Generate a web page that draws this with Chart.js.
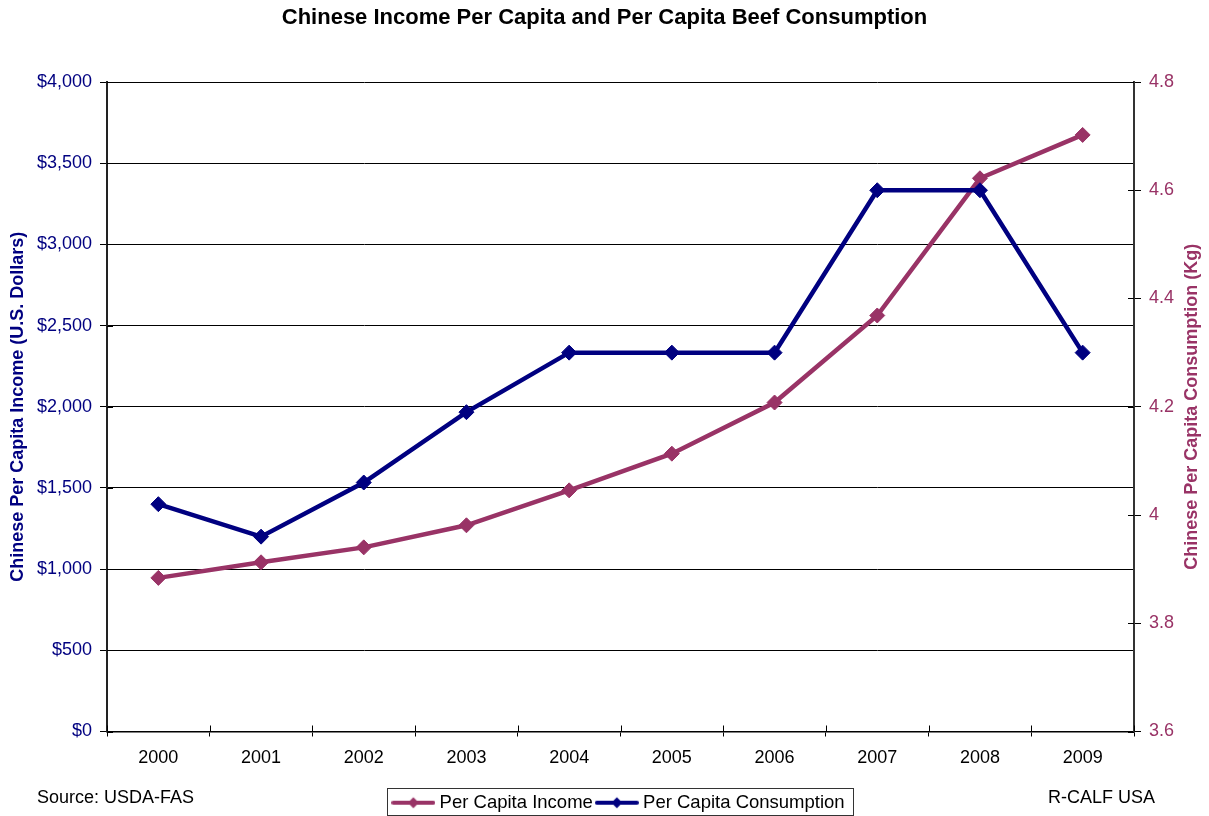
<!DOCTYPE html>
<html>
<head>
<meta charset="utf-8">
<script src="https://cdn.jsdelivr.net/npm/chart.js@4/dist/chart.umd.min.js"></script>
<style>
  html, body { margin: 0; padding: 0; background: #ffffff; }
  #wrap { width: 1209px; height: 816px; }
</style>
</head>
<body>
<div id="wrap"><canvas id="c" width="1209" height="816"></canvas></div>
<script>
// ---- data ----
const years = ['2000', '2001', '2002', '2003', '2004', '2005', '2006', '2007', '2008', '2009'];
const incomeUSD = [946, 1042, 1134, 1270, 1485, 1711, 2026, 2562, 3407, 3674];
const consumptionKg = [4.02, 3.96, 4.06, 4.19, 4.30, 4.30, 4.30, 4.60, 4.60, 4.30];
const seriesNames = ['Per Capita Income', 'Per Capita Consumption'];
const chartTitle = 'Chinese Income Per Capita and Per Capita Beef Consumption';
const leftAxisTitle = 'Chinese Per Capita Income (U.S. Dollars)';
const rightAxisTitle = 'Chinese Per Capita Consumption (Kg)';
const sourceNote = 'Source: USDA-FAS';
const creditNote = 'R-CALF USA';

const MAROON = '#993366';
const NAVY = '#000080';
const FONT = "'Liberation Sans', Arial, Helvetica, sans-serif";

Chart.defaults.font.family = FONT;
Chart.defaults.color = '#000';

function legendSample(color) {
  const cv = document.createElement('canvas');
  cv.width = 44; cv.height = 14;
  const g = cv.getContext('2d');
  g.strokeStyle = color; g.lineWidth = 4; g.lineCap = 'round';
  g.beginPath(); g.moveTo(2, 7); g.lineTo(42, 7); g.stroke();
  g.fillStyle = color;
  g.beginPath(); g.moveTo(22, 1.5); g.lineTo(27.5, 7); g.lineTo(22, 12.5); g.lineTo(16.5, 7); g.closePath(); g.fill();
  return cv;
}
const samples = [legendSample(MAROON), legendSample(NAVY)];

const decorations = {
  id: 'decorations',
  beforeDatasetsDraw(chart) {
    const ctx = chart.ctx, a = chart.chartArea;
    ctx.save();
    ctx.strokeStyle = '#000'; ctx.lineWidth = 1;
    const y = chart.scales.y, y2 = chart.scales.y2;
    y.ticks.forEach(t => {
      const p = Math.round(y.getPixelForValue(t.value)) + 0.5;
      ctx.beginPath(); ctx.moveTo(a.left, p); ctx.lineTo(a.left + 6, p); ctx.stroke();
    });
    y2.ticks.forEach(t => {
      const p = Math.round(y2.getPixelForValue(t.value)) + 0.5;
      ctx.beginPath(); ctx.moveTo(a.right - 6, p); ctx.lineTo(a.right, p); ctx.stroke();
    });
    const n = years.length;
    for (let i = 0; i <= n; i++) {
      const p = Math.round(a.left + i * (a.right - a.left) / n) + 0.5;
      ctx.beginPath(); ctx.moveTo(p, a.bottom - 6); ctx.lineTo(p, a.bottom); ctx.stroke();
    }
    ctx.restore();
  },
  afterDraw(chart) {
    const ctx = chart.ctx, a = chart.chartArea;
    ctx.save();
    ctx.translate(1192, (a.top + a.bottom) / 2);
    ctx.rotate(-Math.PI / 2);
    ctx.font = 'bold 18px ' + FONT;
    ctx.fillStyle = MAROON;
    ctx.textAlign = 'center'; ctx.textBaseline = 'middle';
    ctx.fillText(rightAxisTitle, 0, 0);
    ctx.restore();

    ctx.save();
    ctx.font = '18px ' + FONT;
    ctx.fillStyle = '#000';
    ctx.textBaseline = 'middle';
    ctx.textAlign = 'left';
    ctx.fillText(sourceNote, 37, 798);
    ctx.textAlign = 'right';
    ctx.fillText(creditNote, 1155, 798);
    ctx.restore();

    const lg = chart.legend;
    if (lg && lg.legendHitBoxes && lg.legendHitBoxes.length) {
      const hb = lg.legendHitBoxes;
      const first = hb[0], last = hb[hb.length - 1];
      const l = Math.round(first.left - 9.5) + 0.5;
      const r = Math.round(last.left + last.width + 8) + 0.5;
      const t = Math.round(first.top - 6) + 0.5;
      const b = Math.round(first.top + first.height + 3) + 0.5;
      ctx.save();
      ctx.strokeStyle = '#333'; ctx.lineWidth = 1;
      ctx.strokeRect(l, t, r - l, b - t);
      ctx.restore();
    }
  }
};

new Chart(document.getElementById('c'), {
  type: 'line',
  data: {
    labels: years,
    datasets: [
      {
        label: seriesNames[0],
        data: incomeUSD,
        yAxisID: 'y',
        order: 1,
        borderColor: MAROON,
        backgroundColor: MAROON,
        borderWidth: 4.5,
        pointStyle: 'rectRot',
        pointRadius: 7.5,
        pointBorderWidth: 1,
        pointBackgroundColor: MAROON,
        pointBorderColor: MAROON,
        tension: 0,
        fill: false
      },
      {
        label: seriesNames[1],
        data: consumptionKg,
        yAxisID: 'y2',
        order: 0,
        borderColor: NAVY,
        backgroundColor: NAVY,
        borderWidth: 4.5,
        pointStyle: 'rectRot',
        pointRadius: 7.5,
        pointBorderWidth: 1,
        pointBackgroundColor: NAVY,
        pointBorderColor: NAVY,
        tension: 0,
        fill: false
      }
    ]
  },
  options: {
    responsive: false,
    animation: false,
    devicePixelRatio: 1,
    layout: { padding: { left: 0, right: 0, top: 0, bottom: -6 } },
    plugins: {
      title: {
        display: true,
        text: chartTitle,
        color: '#000',
        font: { size: 22, weight: 'bold' },
        padding: { top: 5, bottom: 50.6 }
      },
      legend: {
        display: true,
        position: 'bottom',
        fullSize: false,
        labels: {
          color: '#000',
          font: { size: 18.5 },
          padding: 7,
          usePointStyle: true,
          pointStyleWidth: 34,
          generateLabels(chart) {
            return chart.data.datasets.map((ds, i) => ({
              text: ds.label,
              fillStyle: ds.borderColor,
              strokeStyle: ds.borderColor,
              lineWidth: 0,
              pointStyle: samples[i],
              hidden: false,
              datasetIndex: i
            }));
          }
        }
      },
      tooltip: { enabled: false }
    },
    scales: {
      x: {
        type: 'category',
        offset: true,
        grid: { offset: true, drawOnChartArea: false, drawTicks: true, tickLength: 5, color: '#000', tickColor: '#000' },
        border: { display: true, color: '#000', width: 1.5 },
        ticks: { color: '#000', font: { size: 18 }, padding: 11, maxRotation: 0, autoSkip: false },
        afterFit(s) { s.height = 55; }
      },
      y: {
        position: 'left',
        min: 0,
        max: 4000,
        ticks: {
          stepSize: 500,
          color: NAVY,
          font: { size: 18 },
          padding: 8,
          callback: v => '$' + Number(v).toLocaleString('en-US')
        },
        grid: { color: '#000', lineWidth: 1, drawTicks: true, tickLength: 7, tickColor: '#000' },
        border: { display: true, color: '#222', width: 2 },
        title: {
          display: true,
          text: leftAxisTitle,
          color: NAVY,
          font: { size: 18, weight: 'bold' },
          padding: { top: 7, bottom: 0 }
        },
        afterFit(s) { s.width = 107; }
      },
      y2: {
        position: 'right',
        min: 3.6,
        max: 4.8,
        ticks: {
          stepSize: 0.2,
          color: MAROON,
          font: { size: 18 },
          padding: 8,
          callback: v => String(Math.round(v * 10) / 10)
        },
        grid: { drawOnChartArea: false, drawTicks: true, tickLength: 7, color: '#000', tickColor: '#000' },
        border: { display: true, color: '#333', width: 2 },
        title: { display: false },
        afterFit(s) { s.width = 75; }
      }
    }
  },
  plugins: [decorations]
});
</script>
</body>
</html>
